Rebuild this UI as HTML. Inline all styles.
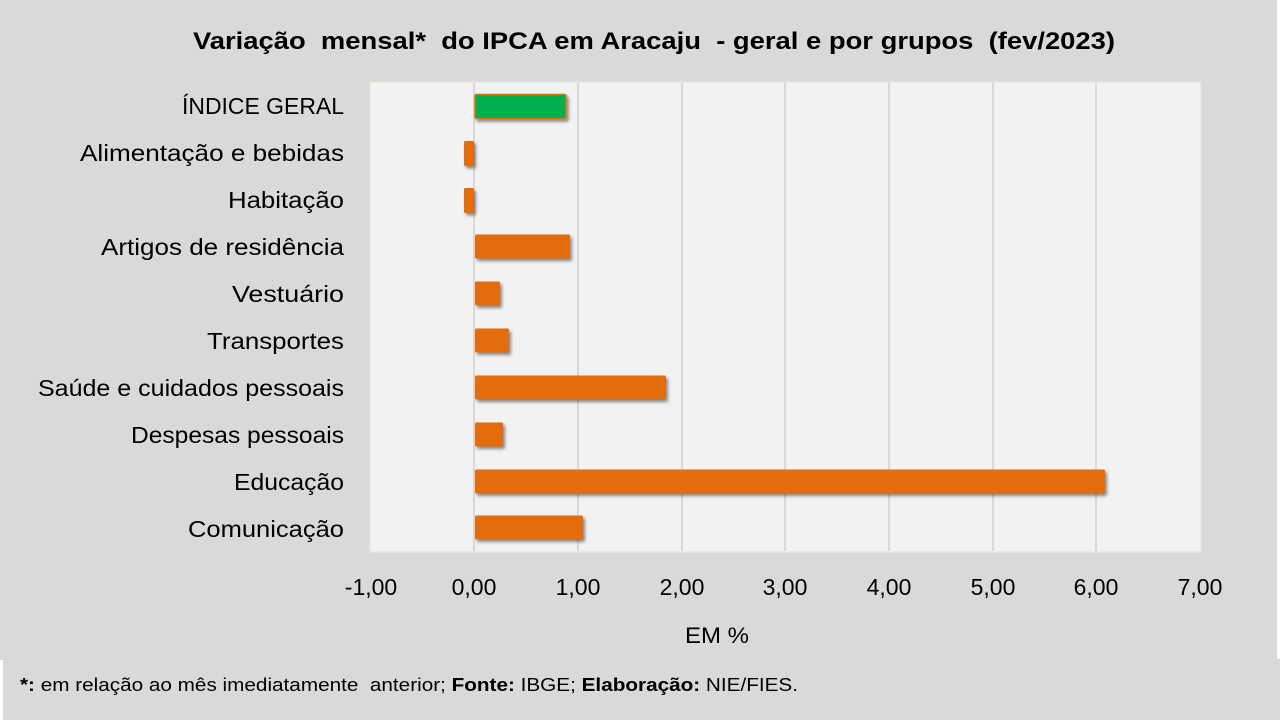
<!DOCTYPE html>
<html>
<head>
<meta charset="utf-8">
<style>
  html,body{margin:0;padding:0;background:#ffffff;}
  body{width:1280px;height:720px;overflow:hidden;position:relative;}
  svg{position:absolute;left:0;top:0;}
  text{font-family:"Liberation Sans",Arial,sans-serif;fill:#000;}
</style>
</head>
<body>
<svg width="1280" height="720" viewBox="0 0 1280 720" xmlns="http://www.w3.org/2000/svg">
  <defs>
    <filter id="sh" x="-10%" y="-30%" width="130%" height="180%">
      <feGaussianBlur in="SourceAlpha" stdDeviation="1.6"/>
      <feOffset dx="2" dy="2.5" result="b"/>
      <feComponentTransfer><feFuncA type="linear" slope="0.45"/></feComponentTransfer>
      <feMerge><feMergeNode/><feMergeNode in="SourceGraphic"/></feMerge>
    </filter>
  </defs>
  <!-- backgrounds -->
  <rect x="0" y="0" width="1277" height="660" fill="#d9d9d9"/>
  <rect x="3" y="659" width="1277" height="61" fill="#d9d9d9"/>

  <!-- title -->
  <text x="654" y="49" font-size="24" font-weight="bold" text-anchor="middle" textLength="922" lengthAdjust="spacingAndGlyphs" xml:space="preserve">Variação  mensal*  do IPCA em Aracaju  - geral e por grupos  (fev/2023)</text>

  <!-- plot area -->
  <rect x="370" y="82" width="831" height="470" fill="#f2f2f2" stroke="#e6e8dc" stroke-width="1.5"/>

  <!-- gridlines -->
  <g stroke="#d0d0d0" stroke-width="1.5">
    <line x1="474" y1="83" x2="474" y2="551"/>
    <line x1="578" y1="83" x2="578" y2="551"/>
    <line x1="682" y1="83" x2="682" y2="551"/>
    <line x1="785" y1="83" x2="785" y2="551"/>
    <line x1="889" y1="83" x2="889" y2="551"/>
    <line x1="993" y1="83" x2="993" y2="551"/>
    <line x1="1096" y1="83" x2="1096" y2="551"/>
  </g>

  <!-- bars -->
  <g filter="url(#sh)">
    <rect x="475" y="94.5" width="91" height="24" rx="1.5" fill="#00b050" stroke="#e36c0a" stroke-width="1.5"/>
    <rect x="464" y="141" width="10" height="25" rx="1.5" fill="#e36c0a"/>
    <rect x="464" y="188" width="10" height="25" rx="1.5" fill="#e36c0a"/>
    <rect x="475" y="234.5" width="95" height="24" rx="1.5" fill="#e36c0a"/>
    <rect x="475" y="281.5" width="25" height="24" rx="1.5" fill="#e36c0a"/>
    <rect x="475" y="328.5" width="34" height="24" rx="1.5" fill="#e36c0a"/>
    <rect x="475" y="375.5" width="191" height="24" rx="1.5" fill="#e36c0a"/>
    <rect x="475" y="422.5" width="28" height="24" rx="1.5" fill="#e36c0a"/>
    <rect x="475" y="469.5" width="630" height="24" rx="1.5" fill="#e36c0a"/>
    <rect x="475" y="515.5" width="108" height="24" rx="1.5" fill="#e36c0a"/>
  </g>

  <!-- category labels -->
  <g font-size="23" text-anchor="end">
    <text x="344" y="114" textLength="162" lengthAdjust="spacingAndGlyphs">ÍNDICE GERAL</text>
    <text x="344" y="161" textLength="264" lengthAdjust="spacingAndGlyphs">Alimentação e bebidas</text>
    <text x="344" y="208" textLength="116" lengthAdjust="spacingAndGlyphs">Habitação</text>
    <text x="344" y="255" textLength="243" lengthAdjust="spacingAndGlyphs">Artigos de residência</text>
    <text x="344" y="302" textLength="112" lengthAdjust="spacingAndGlyphs">Vestuário</text>
    <text x="344" y="349" textLength="137" lengthAdjust="spacingAndGlyphs">Transportes</text>
    <text x="344" y="396" textLength="306" lengthAdjust="spacingAndGlyphs">Saúde e cuidados pessoais</text>
    <text x="344" y="443" textLength="213" lengthAdjust="spacingAndGlyphs">Despesas pessoais</text>
    <text x="344" y="490" textLength="110" lengthAdjust="spacingAndGlyphs">Educação</text>
    <text x="344" y="537" textLength="156" lengthAdjust="spacingAndGlyphs">Comunicação</text>
  </g>

  <!-- x tick labels -->
  <g font-size="23" text-anchor="middle">
    <text x="371" y="595">-1,00</text>
    <text x="474" y="595">0,00</text>
    <text x="578" y="595">1,00</text>
    <text x="682" y="595">2,00</text>
    <text x="785" y="595">3,00</text>
    <text x="889" y="595">4,00</text>
    <text x="993" y="595">5,00</text>
    <text x="1096" y="595">6,00</text>
    <text x="1200" y="595">7,00</text>
  </g>

  <!-- axis title -->
  <text x="717" y="643" font-size="22" text-anchor="middle" textLength="64" lengthAdjust="spacingAndGlyphs">EM %</text>

  <!-- footer -->
  <text x="20" y="691" font-size="18" textLength="778" lengthAdjust="spacingAndGlyphs" xml:space="preserve"><tspan font-weight="bold">*:</tspan> em relação ao mês imediatamente  anterior; <tspan font-weight="bold">Fonte:</tspan> IBGE; <tspan font-weight="bold">Elaboração:</tspan> NIE/FIES.</text>
</svg>
</body>
</html>
